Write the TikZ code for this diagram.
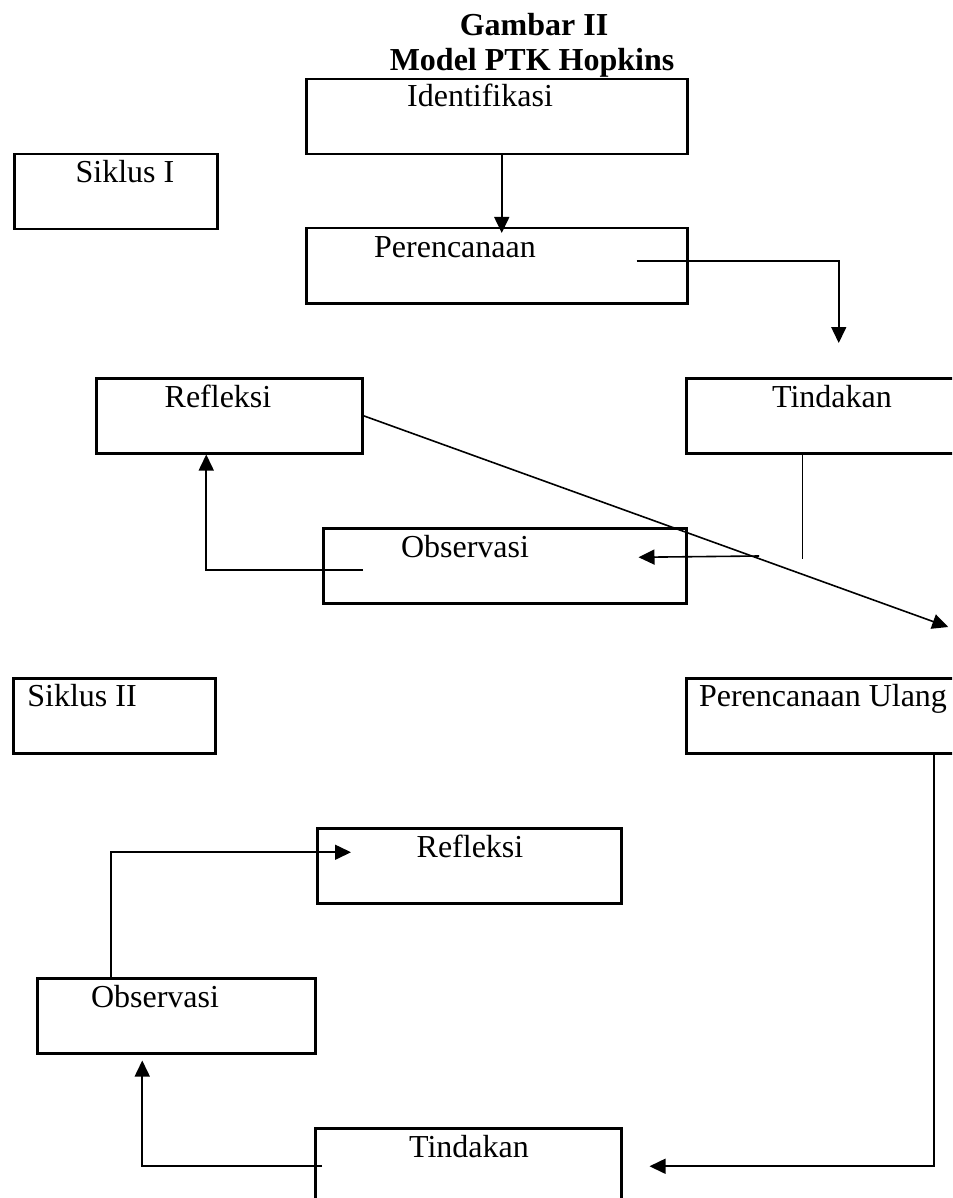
\documentclass[tikz,border=0pt]{standalone}
\usepackage{fontspec}
\setmainfont{Liberation Serif}
\usetikzlibrary{arrows.meta}
\tikzset{
  box/.style={draw,line width=2.5pt,inner sep=0pt,anchor=north west,minimum height=75pt},
  txt/.style={anchor=base,inner sep=0pt},
  link/.style={line width=1.6pt},
  arr/.style={link,-{Triangle[length=16pt,width=15pt]}}
}
\begin{document}
\begin{tikzpicture}[x=1pt,y=-1pt,font=\fontsize{32}{38}\selectfont]
    \clip (0,0) rectangle (952,1198);
    % judul
    \path (534,36) node[txt](judul){\bfseries Gambar II};
    \path (532,71) node[txt](model){\bfseries Model PTK Hopkins};

    % siklus I
    \path (305,78) node[box,minimum width=381pt](ident){};
    \path (480,107) node[txt](identlbl){Identifikasi};
    \path (13,153) node[box,minimum width=203pt](siklusA){};
    \path (125,183) node[txt](siklusAlbl){Siklus I};
    \path (305,227) node[box,minimum width=381pt](renc){};
    \path (455,257) node[txt](renclbl){Perencanaan};
    \path (95,377) node[box,minimum width=266pt](reflA){};
    \path (218,407) node[txt](reflAlbl){Refleksi};
    \path (685,377) node[box,minimum width=305pt](tindA){};
    \path (832,407) node[txt](tindAlbl){Tindakan};
    \path (322,527) node[box,minimum width=363pt](obsA){};
    \path (465,557) node[txt](obsAlbl){Observasi};

    % siklus II
    \path (12,677) node[box,minimum width=202pt](siklusB){};
    \path (82,706) node[txt](siklusBlbl){Siklus II};
    \path (685,677) node[box,minimum width=305pt](rencUlang){};
    \path (823,706) node[txt](rencUlanglbl){Perencanaan Ulang};
    \path (316,827) node[box,minimum width=304pt](reflB){};
    \path (470,857) node[txt](reflBlbl){Refleksi};
    \path (36,977) node[box,minimum width=278pt](obsB){};
    \path (155,1007) node[txt](obsBlbl){Observasi};
    \path (314,1127) node[box,minimum width=306pt,minimum height=103pt](tindB){};
    \path (469,1157) node[txt](tindBlbl){Tindakan};

    % panah
    \draw[arr] ([xshift=5pt]ident.south) -- ([xshift=5pt,yshift=-6pt]renc.north);
    \draw[arr] ([shift={(-52,-4.5)}]renc.east) -| ([yshift=34pt]tindA.north);
    \draw[arr] (reflA.east) -- ([shift={(109.5,-50)}]rencUlang.north);
    \draw[link,line width=1.2pt] ([xshift=-36.5pt]tindA.south) -- ++(0,104) coordinate (tindAfoot);
    \coordinate (obsAhook) at (759,556);
    \draw[arr] (obsAhook) -- ([shift={(-49,-8.5)}]obsA.east);
    \draw[arr] ([shift={(41,4.5)}]obsA.west) -| ([xshift=-23pt]reflA.south);
    \draw[arr] ([xshift=-65pt]obsB.north) |- ([shift={(35,-13.5)}]reflB.west);
    \draw[arr] ([xshift=95pt]rencUlang.south) |- ([shift={(27,-13.5)}]tindB.east);
    \draw[arr] ([shift={(8,-13.5)}]tindB.west) -| ([shift={(-34,6)}]obsB.south);

\end{tikzpicture}
\end{document}
